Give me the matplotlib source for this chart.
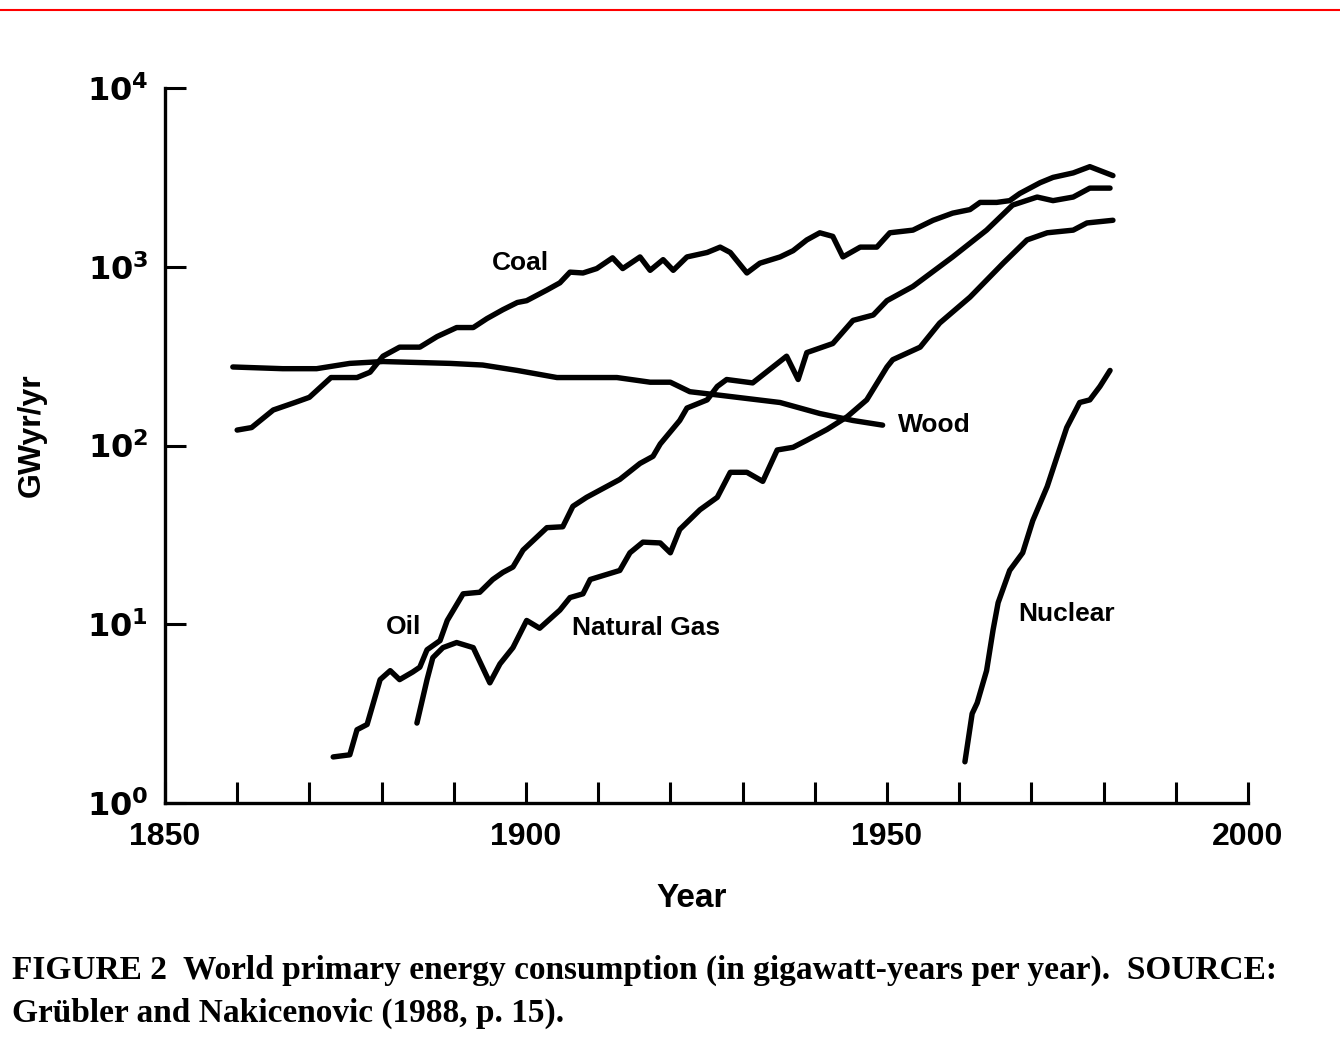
import numpy as np
import matplotlib
matplotlib.use('Agg')
import matplotlib.pyplot as plt
from matplotlib.lines import Line2D

plt.rcParams['font.family'] = ['Liberation Sans', 'DejaVu Sans']
plt.rcParams['font.weight'] = 'bold'
plt.rcParams['mathtext.default'] = 'bf'

# world primary energy consumption, GWyr/yr
coal_years = [1860, 1862, 1865, 1868, 1870, 1873, 1876.6, 1878.4, 1880.2, 1882.5,
              1885.3, 1887.7, 1890.4, 1892.7, 1894.6, 1896.8, 1898.8, 1900.1, 1902.9, 1904.7,
              1906.1, 1907.9, 1909.8, 1912, 1913.4, 1915.8, 1917.2, 1919, 1920.4, 1922.3,
              1925.1, 1926.9, 1928.3, 1930.6, 1932.4, 1935.2, 1937, 1938.9, 1940.7, 1942.5,
              1943.9, 1946.3, 1948.6, 1950.4, 1953.6, 1956.4, 1959.1, 1961.5, 1962.9, 1965.2,
              1967, 1968.4, 1971.2, 1973, 1975.8, 1978.1, 1981.3]
coal = [122, 126, 158, 174, 186, 240, 240, 257, 316, 355,
        355, 407, 457, 457, 513, 575, 631, 646, 741, 813,
        933, 923, 977, 1122, 977, 1135, 955, 1096, 955, 1135,
        1202, 1288, 1202, 923, 1047, 1135, 1230, 1413, 1549, 1479,
        1135, 1288, 1288, 1549, 1603, 1820, 1995, 2089, 2291, 2291,
        2344, 2570, 2951, 3162, 3350, 3631, 3236]

wood_years = [1859.4, 1866.3, 1871, 1875.6, 1880.2, 1889.5, 1894, 1898.8, 1904.3, 1912.6,
              1917.2, 1920, 1922.7, 1926.9, 1935.2, 1940.7, 1945.3, 1949.4]
wood = [275, 269, 269, 288, 295, 288, 282, 263, 240, 240,
        226, 226, 200, 191, 174, 151, 138, 130]

oil_years = [1873.3, 1875.6, 1876.6, 1878, 1879.8, 1881.2, 1882.5, 1884.3, 1885.3, 1886.3,
             1888.1, 1889.1, 1891.3, 1893.6, 1895.4, 1896.8, 1898.2, 1899.6, 1902.9, 1905.1,
             1906.5, 1908.4, 1913, 1915.8, 1917.6, 1918.6, 1921.3, 1922.3, 1925.1, 1926.5,
             1927.8, 1931.4, 1936.1, 1937.7, 1938.9, 1942.5, 1945.3, 1948.1, 1950, 1953.6,
             1959.1, 1963.8, 1967.4, 1970.8, 1973, 1975.8, 1978.1, 1980.9]
oil = [1.81, 1.86, 2.57, 2.75, 4.9, 5.5, 4.9, 5.4, 5.75, 7.2,
       8.1, 10.5, 14.8, 15.1, 17.8, 19.5, 20.9, 26, 34.7, 35.1,
       45.7, 51.3, 64.6, 79.4, 87, 102, 138, 162, 180, 214,
       234, 224, 316, 234, 331, 372, 501, 537, 646, 776,
       1135, 1603, 2213, 2455, 2344, 2455, 2754, 2754]

gas_years = [1884.9, 1886.3, 1887.1, 1888.5, 1890.4, 1892.7, 1895, 1896.4, 1898.2, 1900.1,
             1901.9, 1904.7, 1906.1, 1907.9, 1908.9, 1913, 1914.4, 1916.2, 1918.6, 1920,
             1921.3, 1924.1, 1926.5, 1928.3, 1930.6, 1932.8, 1934.8, 1937, 1938.9, 1941.7,
             1944.5, 1947.2, 1950, 1950.8, 1954.6, 1957.3, 1961.5, 1966.1, 1969.4, 1972.2,
             1975.8, 1977.7, 1981.3]
gas = [2.8, 4.9, 6.5, 7.4, 7.9, 7.4, 4.7, 6.0, 7.4, 10.5,
       9.5, 12.0, 14.1, 14.8, 17.8, 20, 25.1, 28.8, 28.5, 25.1,
       33.9, 43.7, 51.3, 70.8, 70.8, 63, 94.4, 97.7, 107, 123,
       145, 180, 275, 302, 355, 484, 676, 1047, 1413, 1549,
       1603, 1758, 1820]

nuclear_years = [1960.8, 1961.8, 1962.5, 1963.8, 1964.7, 1965.4, 1967, 1968.8, 1970.2, 1972.2,
                 1974, 1974.9, 1976.7, 1978.1, 1979.5, 1980.9]
nuclear = [1.7, 3.16, 3.63, 5.5, 9.3, 13.2, 20, 25.1, 38, 59,
           98, 126, 174, 180, 214, 263]

# label text and where it sits (year, value)
labels = [('Coal', 1899.3, 1050), ('Wood', 1956.6, 131), ('Oil', 1883.1, 9.7),
          ('Natural Gas', 1916.6, 9.5), ('Nuclear', 1974.9, 11.4)]

fig = plt.figure(figsize=(13.4, 10.63), dpi=100)
ax = fig.add_axes([0.1231, 0.2446, 0.8082, 0.6726])

for xs, ys in [(coal_years, coal), (wood_years, wood), (oil_years, oil),
               (gas_years, gas), (nuclear_years, nuclear)]:
    ax.plot(xs, ys, color='black', lw=3.9, solid_capstyle='round', solid_joinstyle='round')

for txt, x, y in labels:
    ax.text(x, y, txt, fontsize=19, ha='center', va='center')

ax.set_yscale('log')
ax.set_ylim(1, 1e4)
ax.set_xlim(1850, 2000)
ax.set_yticks([1, 10, 100, 1000, 10000])
ax.set_yticklabels([r'$\mathbf{10^{%d}}$' % i for i in range(5)])
ax.yaxis.set_minor_locator(matplotlib.ticker.NullLocator())
ticks = list(range(1850, 2001, 10))
ax.set_xticks(ticks)
ax.set_xticklabels([str(t) if t % 50 == 0 else '' for t in ticks])

for s in ['top', 'right']:
    ax.spines[s].set_visible(False)
for s in ['left', 'bottom']:
    ax.spines[s].set_linewidth(2.4)
ax.tick_params(axis='both', direction='in', length=15, width=2.2, labelsize=23)
ax.tick_params(axis='x', pad=14)
ax.tick_params(axis='y', pad=12)

fig.text(0.516, 0.155, 'Year', fontsize=24, ha='center', va='center')
fig.text(0.024, 0.591, 'GWyr/yr', fontsize=23, rotation=90, ha='center', va='center')

cap = dict(fontsize=24, family=['Liberation Serif', 'DejaVu Serif'], ha='left', va='center')
fig.text(0.009, 1 - 970 / 1063,
         'FIGURE 2  World primary energy consumption (in gigawatt-years per year).  SOURCE:', **cap)
fig.text(0.009, 1 - 1013 / 1063, 'Grübler and Nakicenovic (1988, p. 15).', **cap)

# red rule across the top of the page
fig.add_artist(Line2D([0, 1], [1 - 10 / 1063] * 2, color='red', lw=1.5, transform=fig.transFigure))

fig.savefig('out.png', dpi=100, facecolor='white')
